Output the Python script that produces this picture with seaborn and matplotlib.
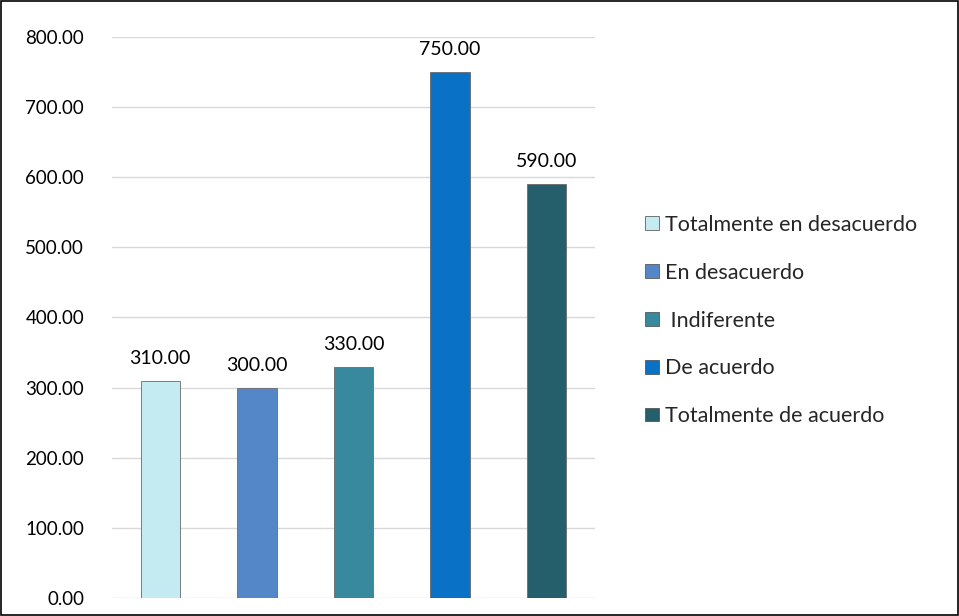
import matplotlib
matplotlib.use("Agg")
import matplotlib.pyplot as plt
import seaborn as sns
import pandas as pd
from matplotlib.patches import Rectangle, Patch

categories = ["Totalmente en desacuerdo", "En desacuerdo", " Indiferente", "De acuerdo", "Totalmente de acuerdo"]
values = [310, 300, 330, 750, 590]
colors = ["#C4EAF2", "#5487C8", "#38899E", "#0A72C6", "#245F6B"]
yticks = [0, 100, 200, 300, 400, 500, 600, 700, 800]

sns.set_theme(style="white")
plt.rcParams['font.family'] = ['Lato', 'DejaVu Sans']

df = pd.DataFrame({"cat": categories, "val": values})

fig = plt.figure(figsize=(9.59, 6.16), dpi=100)
ax = fig.add_axes([0.1168, 0.0292, 0.5036, 0.9108])

sns.barplot(data=df, x="cat", y="val", hue="cat", palette=colors, order=categories,
            hue_order=categories, width=0.41, legend=False, ax=ax, saturation=1,
            edgecolor="#6a6a6a", linewidth=0.6)

ax.set_ylim(0, 800)
ax.set_xlim(-0.5, 4.5)
ax.set_yticks(yticks)
ax.set_yticklabels([f"{v:.2f}" for v in yticks], fontsize=13.5, color="#000000")
ax.set_xticks([])
ax.set_xlabel("")
ax.set_ylabel("")
ax.tick_params(axis="y", length=0, pad=20)
ax.grid(axis="y", color="#D9D9D9", linewidth=1)
ax.set_axisbelow(True)
for s in ax.spines.values():
    s.set_visible(False)

for c in ax.containers:
    ax.bar_label(c, fmt="%.2f", padding=10, fontsize=14, color="#000000")

handles = [Patch(facecolor=col, edgecolor="#444444", linewidth=0.5) for col in colors]
fig.legend(handles, categories, loc="upper left", bbox_to_anchor=(0.664, 0.665),
           frameon=False, fontsize=15.5, handlelength=0.62, handleheight=0.62,
           handletextpad=0.3, labelspacing=1.29, borderaxespad=0)

fig.patches.append(Rectangle((0.001, 0.001), 0.998, 0.997, transform=fig.transFigure,
                             fill=False, edgecolor="#000000", linewidth=1.2))

fig.savefig("out.png", dpi=100)
